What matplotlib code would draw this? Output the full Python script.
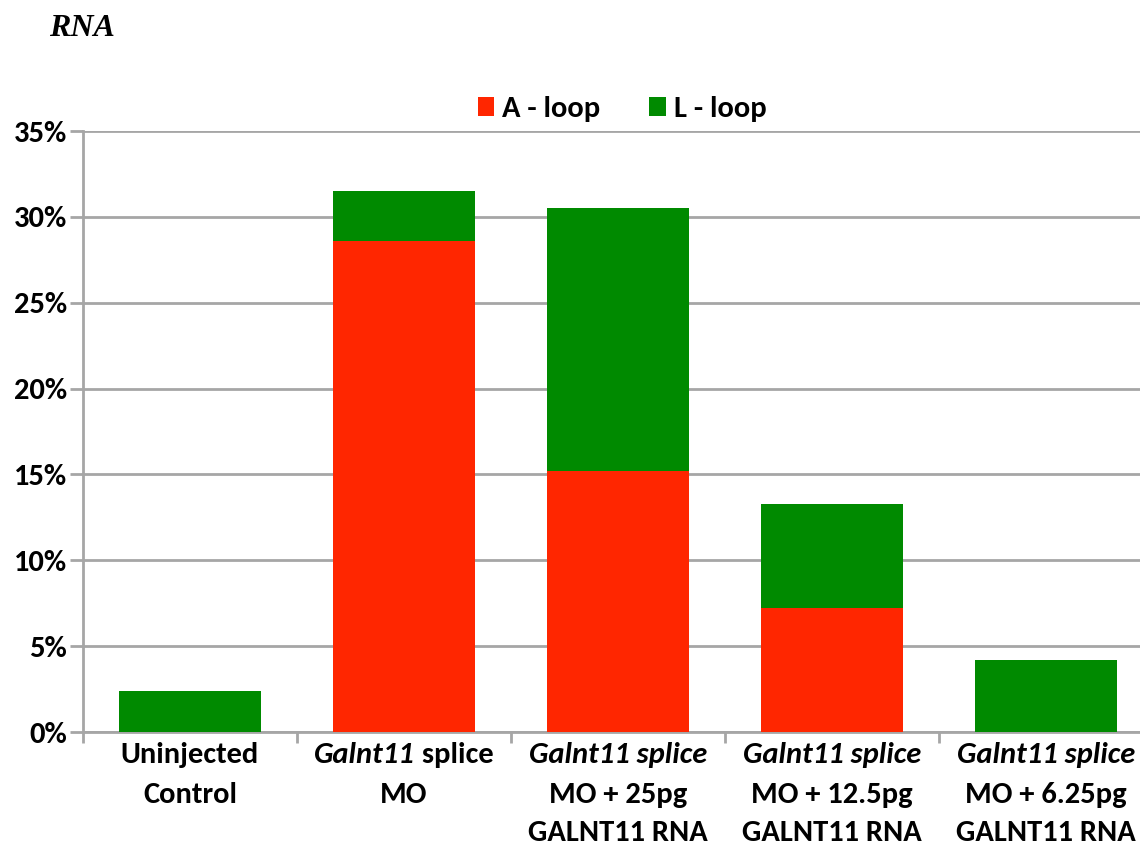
import numpy as np
import matplotlib
matplotlib.use('Agg')
import matplotlib.pyplot as plt
from matplotlib.ticker import FuncFormatter, MultipleLocator, FixedLocator
from matplotlib.transforms import blended_transform_factory, offset_copy

plt.rcParams['font.family'] = ['Carlito', 'Fira Sans Condensed', 'DejaVu Sans']
plt.rcParams['font.weight'] = 'bold'

# data: percent of embryos with each loop phenotype
groups = ['Uninjected Control', 'Galnt11 splice MO', 'Galnt11 splice MO + 25pg GALNT11 RNA',
          'Galnt11 splice MO + 12.5pg GALNT11 RNA', 'Galnt11 splice MO + 6.25pg GALNT11 RNA']
a_loop = [0.0, 28.6, 15.2, 7.2, 0.0]
l_loop = [2.4, 2.9, 15.3, 6.1, 4.2]

# tick label lines: (text, italic) pieces per line
label_lines = [
    [[('Uninjected', False)], [('Control', False)]],
    [[('Galnt11', True), (' splice', False)], [('MO', False)]],
    [[('Galnt11 splice', True)], [('MO + 25pg', False)], [('GALNT11 RNA', False)]],
    [[('Galnt11 splice', True)], [('MO + 12.5pg', False)], [('GALNT11 RNA', False)]],
    [[('Galnt11 splice', True)], [('MO + 6.25pg', False)], [('GALNT11 RNA', False)]],
]

red = '#FF2600'
green = '#008A00'
grey = '#A6A6A6'

fig = plt.figure(figsize=(11.4, 8.42), dpi=100)
ax = fig.add_axes([0.0728, 0.1306, 0.9386, 0.7138])

x = np.arange(len(groups))
ax.bar(x, a_loop, width=0.66, color=red, label='A - loop', zorder=3)
ax.bar(x, l_loop, width=0.66, bottom=a_loop, color=green, label='L - loop', zorder=3)

ax.set_xlim(-0.5, len(groups) - 0.5)
ax.set_ylim(0, 35)
ax.yaxis.set_major_locator(MultipleLocator(5))
ax.yaxis.set_major_formatter(FuncFormatter(lambda v, p: f'{v:.0f}%'))
ax.grid(axis='y', color=grey, linewidth=2, zorder=0)
ax.set_axisbelow(True)

for s in ['top', 'right']:
    ax.spines[s].set_visible(False)
for s in ['left', 'bottom']:
    ax.spines[s].set_color(grey)
    ax.spines[s].set_linewidth(2)

ax.tick_params(axis='y', length=9.5, width=2, color=grey, pad=2, labelsize=22)
ax.xaxis.set_major_locator(FixedLocator([]))
ax.xaxis.set_minor_locator(FixedLocator(np.arange(-0.5, len(groups), 1.0)))
ax.tick_params(axis='x', which='minor', length=8, width=2, color=grey)
for lab in ax.get_yticklabels():
    lab.set_fontweight('bold')

# category labels, drawn line by line so italic and upright parts can be mixed
renderer = fig.canvas.get_renderer()
trans = blended_transform_factory(ax.transData, ax.transAxes)
fs = 22
baselines = [-22.3, -51, -78.5]
for i, lines in enumerate(label_lines):
    for j, pieces in enumerate(lines):
        tr = offset_copy(trans, fig=fig, x=0, y=baselines[j], units='points')
        if len(pieces) == 1:
            txt, it = pieces[0]
            ax.text(i, 0, txt, transform=tr, ha='center', va='baseline', fontsize=fs,
                    fontweight='bold', style='italic' if it else 'normal')
        else:
            objs = [ax.text(i, 0, t, transform=tr, ha='left', va='baseline', fontsize=fs,
                            fontweight='bold', style='italic' if it else 'normal')
                    for t, it in pieces]
            widths = [o.get_window_extent(renderer).width for o in objs]
            start = -sum(widths) / 2
            for o, w in zip(objs, widths):
                o.set_transform(offset_copy(tr, fig=fig, x=start * 72 / fig.dpi, y=0, units='points'))
                start += w

leg = fig.legend(loc='center', bbox_to_anchor=(0.5456, 0.870), ncol=2,
                 frameon=False, fontsize=22, handlelength=0.55, handleheight=0.55,
                 handletextpad=0.25, columnspacing=1.6, borderaxespad=0.0)
for t in leg.get_texts():
    t.set_fontweight('bold')

fig.text(0.043, 0.966, 'RNA', fontsize=23, family=['Liberation Serif', 'DejaVu Serif'],
         style='italic', fontweight='bold', va='center', ha='left')

fig.savefig('out.png', dpi=100)
